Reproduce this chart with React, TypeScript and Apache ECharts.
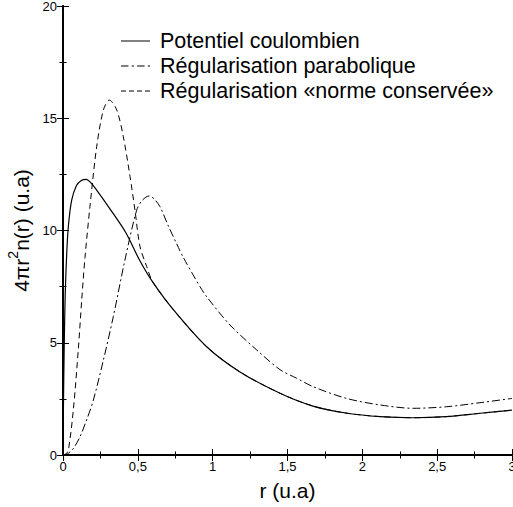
import React, { useEffect, useRef } from 'react';
import * as echarts from 'echarts';

const seriesNames = [
  'Potentiel coulombien',
  'Régularisation parabolique',
  'Régularisation «norme conservée»',
];

const coulombR = [0, 0.003, 0.008, 0.015, 0.025, 0.036, 0.058, 0.09, 0.12, 0.155, 0.19, 0.225, 0.31, 0.42, 0.51, 0.6, 0.74, 0.96, 1.18, 1.45, 1.67, 1.9, 2.12, 2.34, 2.56, 2.79, 3.0];
const coulombV = [0, 2.2, 4.8, 7.2, 9.0, 10.2, 11.35, 12.0, 12.22, 12.28, 12.1, 11.8, 11.0, 9.9, 8.7, 7.7, 6.45, 4.82, 3.71, 2.75, 2.18, 1.86, 1.71, 1.66, 1.71, 1.86, 2.0];

const paraboR = [0, 0.03, 0.07, 0.114, 0.16, 0.203, 0.27, 0.336, 0.414, 0.492, 0.53, 0.577, 0.61, 0.648, 0.704, 0.76, 0.804, 0.915, 0.96, 1.116, 1.294, 1.45, 1.561, 1.672, 1.895, 2.118, 2.34, 2.564, 2.786, 3.0];
const paraboV = [0, 0.05, 0.3, 0.82, 1.6, 2.45, 4.23, 6.16, 8.69, 10.9, 11.35, 11.54, 11.4, 11.06, 10.2, 9.4, 8.8, 7.5, 7.05, 5.79, 4.68, 3.8, 3.42, 3.04, 2.52, 2.23, 2.08, 2.15, 2.33, 2.52];

const normeR = [0, 0.02, 0.036, 0.069, 0.102, 0.125, 0.147, 0.18, 0.225, 0.27, 0.31, 0.359, 0.403, 0.448, 0.481, 0.514, 0.559, 0.6, 0.74, 0.96, 1.18, 1.45, 1.67, 1.9, 2.12, 2.34, 2.56, 2.79, 3.0];
const normeV = [0, 0.05, 0.22, 2.0, 4.68, 6.9, 8.8, 11.06, 13.73, 15.37, 15.81, 15.37, 14.18, 12.4, 10.9, 9.3, 8.4, 7.7, 6.45, 4.82, 3.71, 2.75, 2.18, 1.86, 1.71, 1.66, 1.71, 1.86, 2.0];

const xMin = 0, xMax = 3, xStep = 0.5;
const yMin = 0, yMax = 20, yStep = 5;

const FONT = '"Liberation Sans", Arial, Helvetica, sans-serif';

// legend sample glyphs (solid, dash-dot, dashed), drawn as thin filled bars
const legendIcons = [
  'path://M0,0H29V1H0Z',
  'path://M0,0H7V1H0Z M10,0H12V1H10Z M15,0H22V1H15Z M25,0H27V1H25Z',
  'path://M0,0H5V1H0Z M8,0H13V1H8Z M16,0H21V1H16Z M24,0H29V1H24Z',
];

const pairs = (r: number[], v: number[]) => r.map((x, i) => [x, v[i]]);
const fmt = (v: number) => String(v).replace('.', ',');

export default function App() {
  const ref = useRef<HTMLDivElement>(null);
  useEffect(() => {
    document.body.style.margin = '0';
    document.documentElement.style.overflow = 'hidden';
    const chart = echarts.init(ref.current!, null, { renderer: 'svg', width: 513, height: 507 });
    const axisLine = { show: true, lineStyle: { color: '#000', width: 2 } };
    const tick = { show: true, inside: true, length: 6, lineStyle: { color: '#000', width: 1 } };
    const minor = { show: true, splitNumber: 2, length: 3.5, lineStyle: { color: '#000', width: 1 } };
    const label = { color: '#000', fontSize: 13, fontFamily: FONT };
    const lineSeries = (name: string, data: number[][], type: any, width: number) => ({
      name,
      type: 'line',
      data,
      symbol: 'none',
      smooth: 0.3,
      xAxisIndex: 0,
      yAxisIndex: 0,
      lineStyle: { color: '#000', width, type },
      itemStyle: { color: '#000' },
    });
    chart.setOption({
      animation: false,
      backgroundColor: '#fff',
      grid: { left: 63, right: 1, top: 6, bottom: 52, containLabel: false, outerBoundsMode: 'none' },
      legend: {
        orient: 'vertical',
        left: 121,
        top: 30,
        padding: 0,
        itemWidth: 29,
        itemHeight: 1.2,
        itemGap: 3,
        selectedMode: false,
        itemStyle: { color: '#000', borderWidth: 0 },
        textStyle: { color: '#000', fontSize: 21.5, fontFamily: FONT, padding: [0, 0, 0, 5] },
        data: seriesNames.map((name, i) => ({ name, icon: legendIcons[i] })),
      },
      xAxis: [
        {
          type: 'value', position: 'bottom', min: xMin, max: xMax, interval: xStep,
          axisLine, axisTick: tick, minorTick: minor, splitLine: { show: false },
          axisLabel: { ...label, margin: 5, formatter: fmt },
          name: 'r (u.a)', nameLocation: 'middle', nameGap: 25,
          nameTextStyle: { color: '#000', fontSize: 21, fontFamily: FONT },
        },
        {
          type: 'value', position: 'top', min: xMin, max: xMax, interval: xStep,
          axisLine, axisTick: tick, minorTick: minor, splitLine: { show: false },
          axisLabel: { show: false },
        },
      ],
      yAxis: [
        {
          type: 'value', position: 'left', min: yMin, max: yMax, interval: yStep,
          axisLine, axisTick: tick, minorTick: minor, splitLine: { show: false },
          axisLabel: { ...label, margin: 6 },
          name: '{a|4πr}{s|2}{a|n(r) (u.a)}', nameLocation: 'middle', nameGap: 25,
          nameTextStyle: {
            color: '#000', fontFamily: FONT,
            rich: {
              a: { fontSize: 21, fontFamily: FONT, color: '#000', verticalAlign: 'bottom' },
              s: { fontSize: 14, fontFamily: FONT, color: '#000', verticalAlign: 'top', padding: [0, 0, 12, 0] },
            },
          },
        },
        {
          type: 'value', position: 'right', min: yMin, max: yMax, interval: yStep,
          axisLine, axisTick: tick, minorTick: minor, splitLine: { show: false },
          axisLabel: { show: false },
        },
      ],
      series: [
        lineSeries(seriesNames[0], pairs(coulombR, coulombV), 'solid', 1.2),
        lineSeries(seriesNames[1], pairs(paraboR, paraboV), [8, 3, 2, 3], 1),
        lineSeries(seriesNames[2], pairs(normeR, normeV), [6, 4], 1),
      ],
    });
    return () => chart.dispose();
  }, []);
  return <div ref={ref} style={{ position: 'fixed', left: 0, top: 0, width: 513, height: 507 }} />;
}
